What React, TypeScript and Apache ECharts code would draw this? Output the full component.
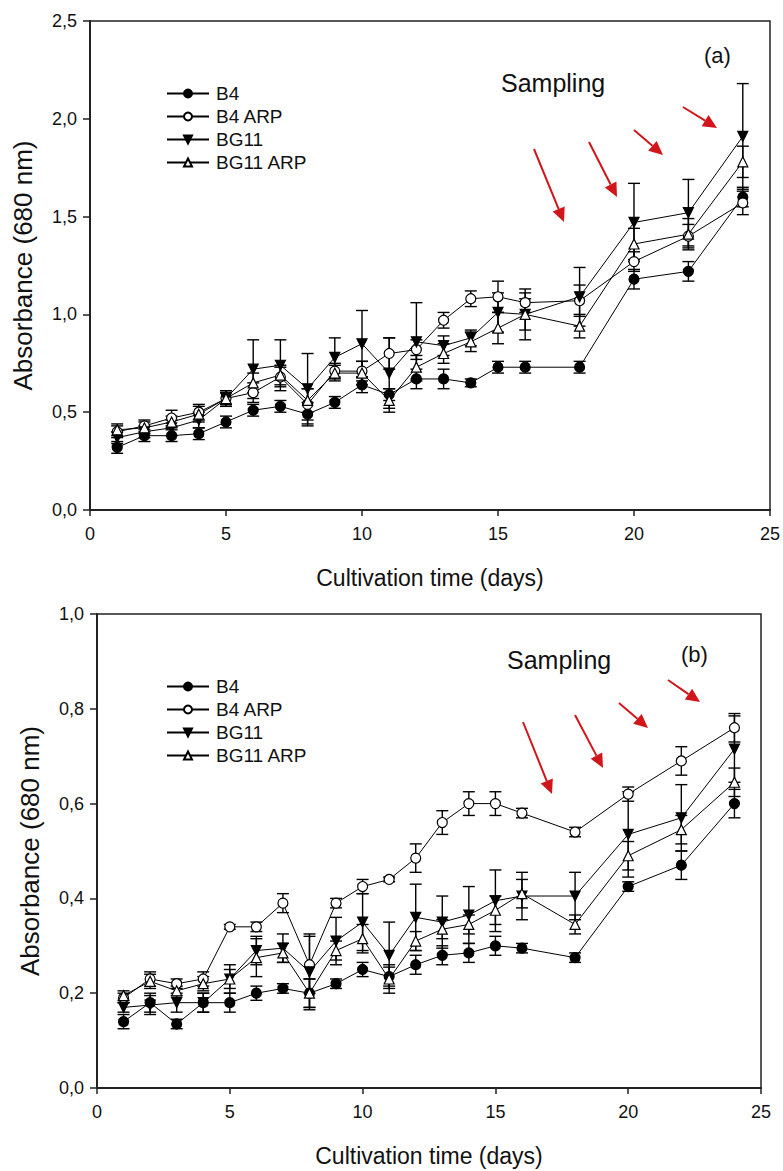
import React, { useEffect, useRef } from 'react';
import * as echarts from 'echarts';

const days = [1, 2, 3, 4, 5, 6, 7, 8, 9, 10, 11, 12, 13, 14, 15, 16, 18, 20, 22, 24];
const seriesNames = ['B4', 'B4 ARP', 'BG11', 'BG11 ARP'];

// Panel (a)
const aB4 = [0.32, 0.38, 0.38, 0.39, 0.45, 0.51, 0.53, 0.49, 0.55, 0.64, 0.59, 0.67, 0.67, 0.65, 0.73, 0.73, 0.73, 1.18, 1.22, 1.60];
const aB4Err = [0.03, 0.03, 0.03, 0.03, 0.03, 0.03, 0.03, 0.06, 0.03, 0.04, 0.03, 0.05, 0.05, 0.02, 0.03, 0.03, 0.03, 0.05, 0.05, 0.05];
const aB4ARP = [0.40, 0.43, 0.47, 0.50, 0.57, 0.60, 0.68, 0.54, 0.71, 0.71, 0.80, 0.82, 0.97, 1.08, 1.09, 1.06, 1.07, 1.27, 1.40, 1.57];
const aB4ARPErr = [0.03, 0.03, 0.04, 0.04, 0.03, 0.05, 0.05, 0.08, 0.04, 0.05, 0.08, 0.05, 0.04, 0.04, 0.08, 0.05, 0.08, 0.05, 0.06, 0.06];
const aBG11 = [0.37, 0.40, 0.42, 0.46, 0.57, 0.72, 0.74, 0.62, 0.78, 0.85, 0.70, 0.86, 0.84, 0.88, 1.01, 1.00, 1.09, 1.47, 1.52, 1.91];
const aBG11Err = [0.03, 0.03, 0.04, 0.04, 0.04, 0.15, 0.13, 0.18, 0.10, 0.17, 0.18, 0.20, 0.05, 0.04, 0.10, 0.08, 0.15, 0.20, 0.17, 0.27];
const aBG11ARP = [0.41, 0.42, 0.45, 0.49, 0.57, 0.65, 0.69, 0.56, 0.70, 0.70, 0.56, 0.73, 0.80, 0.86, 0.93, 1.00, 0.94, 1.36, 1.41, 1.78];
const aBG11ARPErr = [0.03, 0.03, 0.03, 0.04, 0.04, 0.05, 0.05, 0.06, 0.04, 0.06, 0.06, 0.06, 0.05, 0.05, 0.08, 0.13, 0.06, 0.08, 0.08, 0.08];

// Panel (b)
const bB4 = [0.14, 0.18, 0.135, 0.18, 0.18, 0.20, 0.21, 0.20, 0.22, 0.25, 0.235, 0.26, 0.28, 0.285, 0.30, 0.295, 0.275, 0.425, 0.47, 0.60];
const bB4Err = [0.015, 0.02, 0.01, 0.02, 0.02, 0.015, 0.01, 0.03, 0.01, 0.015, 0.02, 0.02, 0.02, 0.02, 0.02, 0.01, 0.01, 0.01, 0.03, 0.03];
const bB4ARP = [0.19, 0.23, 0.22, 0.23, 0.34, 0.34, 0.39, 0.26, 0.39, 0.425, 0.44, 0.485, 0.56, 0.60, 0.60, 0.58, 0.54, 0.62, 0.69, 0.76];
const bB4ARPErr = [0.01, 0.015, 0.01, 0.015, 0.005, 0.01, 0.02, 0.06, 0.01, 0.015, 0.005, 0.03, 0.025, 0.025, 0.025, 0.01, 0.01, 0.015, 0.03, 0.03];
const bBG11 = [0.17, 0.175, 0.18, 0.18, 0.23, 0.29, 0.295, 0.245, 0.31, 0.35, 0.28, 0.36, 0.35, 0.365, 0.395, 0.405, 0.405, 0.535, 0.57, 0.715];
const bBG11Err = [0.01, 0.02, 0.02, 0.02, 0.03, 0.03, 0.03, 0.08, 0.05, 0.06, 0.07, 0.07, 0.055, 0.06, 0.065, 0.05, 0.05, 0.09, 0.07, 0.07];
const bBG11ARP = [0.195, 0.225, 0.205, 0.22, 0.23, 0.275, 0.285, 0.20, 0.29, 0.315, 0.23, 0.31, 0.335, 0.345, 0.375, 0.41, 0.345, 0.49, 0.545, 0.645];
const bBG11ARPErr = [0.01, 0.015, 0.01, 0.015, 0.02, 0.04, 0.02, 0.03, 0.02, 0.03, 0.03, 0.02, 0.02, 0.02, 0.03, 0.03, 0.02, 0.03, 0.03, 0.03];

const FONT = '"Liberation Sans", Arial, sans-serif';
const RED = '#d0161b';
const INK = '#111';

const symbols = [
  { symbol: 'circle', fill: '#000' },
  { symbol: 'circle', fill: '#fff' },
  { symbol: 'path://M0,0 L10,0 L5,9 Z', fill: '#000' },
  { symbol: 'path://M5,0 L10,9 L0,9 Z', fill: '#fff' },
];

const fmt = (v: number) => v.toFixed(1).replace('.', ',');

function buildSeries(idx: number, vals: number[][], errs: number[][]) {
  const out: any[] = [];
  vals.forEach((v, k) => {
    out.push({
      type: 'custom',
      name: 'err' + idx + '_' + k,
      xAxisIndex: idx,
      yAxisIndex: idx,
      z: 2,
      silent: true,
      encode: { x: 0, y: 1 },
      data: days.map((d, i) => [d, v[i], errs[k][i]]),
      renderItem: (params: any, api: any) => {
        const x = api.value(0);
        const y = api.value(1);
        const e = api.value(2);
        const top = api.coord([x, y + e]);
        const bot = api.coord([x, y - e]);
        const hw = 6;
        const st = { stroke: '#000', lineWidth: 1.4 };
        return {
          type: 'group',
          children: [
            { type: 'line', shape: { x1: top[0], y1: top[1], x2: bot[0], y2: bot[1] }, style: st },
            { type: 'line', shape: { x1: top[0] - hw, y1: top[1], x2: top[0] + hw, y2: top[1] }, style: st },
            { type: 'line', shape: { x1: bot[0] - hw, y1: bot[1], x2: bot[0] + hw, y2: bot[1] }, style: st },
          ],
        };
      },
    });
    out.push({
      type: 'line',
      name: seriesNames[k],
      xAxisIndex: idx,
      yAxisIndex: idx,
      z: 3,
      data: days.map((d, i) => [d, v[i]]),
      symbol: symbols[k].symbol,
      symbolSize: 10,
      showSymbol: true,
      lineStyle: { color: '#000', width: 1 },
      itemStyle: { color: symbols[k].fill, borderColor: '#000', borderWidth: 1.2 },
    });
  });
  return out;
}

function arrow(x1: number, y1: number, x2: number, y2: number) {
  const dx = x2 - x1;
  const dy = y2 - y1;
  const len = Math.hypot(dx, dy);
  const ux = dx / len;
  const uy = dy / len;
  const hl = 14;
  const hw = 6.5;
  const bx = x2 - ux * hl;
  const by = y2 - uy * hl;
  return {
    type: 'group',
    children: [
      { type: 'line', shape: { x1, y1, x2: bx, y2: by }, style: { stroke: RED, lineWidth: 2 } },
      {
        type: 'polygon',
        shape: { points: [[x2, y2], [bx - uy * hw, by + ux * hw], [bx + uy * hw, by - ux * hw]] },
        style: { fill: RED },
      },
    ],
  };
}

function xAxisCfg(idx: number) {
  return {
    type: 'value',
    gridIndex: idx,
    min: 0,
    max: 25,
    interval: 5,
    name: 'Cultivation time (days)',
    nameLocation: 'middle',
    nameGap: 56,
    nameTextStyle: { fontSize: 23, color: INK, fontFamily: FONT },
    axisLine: { lineStyle: { color: '#222', width: 2 } },
    axisTick: { show: true, inside: false, length: 6, lineStyle: { color: '#222', width: 1.5 } },
    axisLabel: { fontSize: 18, color: INK, fontFamily: FONT, margin: 15 },
    splitLine: { show: false },
  };
}

function yAxisCfg(idx: number, max: number, interval: number) {
  return {
    type: 'value',
    gridIndex: idx,
    min: 0,
    max,
    interval,
    name: 'Absorbance (680 nm)',
    nameLocation: 'middle',
    nameGap: 54,
    nameTextStyle: { fontSize: 26, color: INK, fontFamily: FONT },
    axisLine: { lineStyle: { color: '#222', width: 2 } },
    axisTick: { show: true, inside: false, length: 7, lineStyle: { color: '#222', width: 1.5 } },
    axisLabel: { fontSize: 18, color: INK, fontFamily: FONT, margin: 13, formatter: fmt },
    splitLine: { show: false },
  };
}

function legendCfg(top: number) {
  return {
    data: seriesNames,
    orient: 'vertical',
    left: 161,
    top,
    itemWidth: 42,
    itemHeight: 10,
    itemGap: 4,
    selectedMode: false,
    textStyle: { fontSize: 19, lineHeight: 19, color: INK, fontFamily: FONT, padding: [0, 0, 0, 2] },
  };
}

export default function App() {
  const ref = useRef<HTMLDivElement>(null);
  useEffect(() => {
    if (!ref.current) return;
    const chart = echarts.init(ref.current, null, { renderer: 'svg' });
    const series = [
      ...buildSeries(0, [aB4, aB4ARP, aBG11, aBG11ARP], [aB4Err, aB4ARPErr, aBG11Err, aBG11ARPErr]),
      ...buildSeries(1, [bB4, bB4ARP, bBG11, bBG11ARP], [bB4Err, bB4ARPErr, bBG11Err, bBG11ARPErr]),
    ];
    chart.setOption({
      animation: false,
      backgroundColor: '#fff',
      grid: [
        { left: 90, top: 21, width: 680, height: 489, show: true, borderColor: '#222', borderWidth: 1.5 },
        { left: 97, top: 614, width: 664, height: 474, show: true, borderColor: '#222', borderWidth: 1.5 },
      ],
      xAxis: [xAxisCfg(0), xAxisCfg(1)],
      yAxis: [yAxisCfg(0, 2.5, 0.5), yAxisCfg(1, 1.0, 0.2)],
      legend: [legendCfg(79), legendCfg(672)],
      series,
      graphic: [
        { type: 'text', left: 501, top: 70, style: { text: 'Sampling', fontSize: 25, fill: INK, fontFamily: FONT } },
        { type: 'text', left: 704, top: 44, style: { text: '(a)', fontSize: 22, fill: INK, fontFamily: FONT } },
        arrow(534, 149, 564, 222),
        arrow(589, 142, 617, 197),
        arrow(634, 130, 663, 155),
        arrow(683, 107, 717, 128),
        { type: 'text', left: 507, top: 647, style: { text: 'Sampling', fontSize: 25, fill: INK, fontFamily: FONT } },
        { type: 'text', left: 681, top: 643, style: { text: '(b)', fontSize: 22, fill: INK, fontFamily: FONT } },
        arrow(523, 722, 552, 794),
        arrow(575, 715, 603, 768),
        arrow(619, 703, 648, 728),
        arrow(668, 680, 700, 702),
      ],
    });
    return () => chart.dispose();
  }, []);
  return (
    <div
      ref={ref}
      style={{ position: 'absolute', left: 0, top: 0, width: 783, height: 1171, background: '#fff' }}
    />
  );
}
